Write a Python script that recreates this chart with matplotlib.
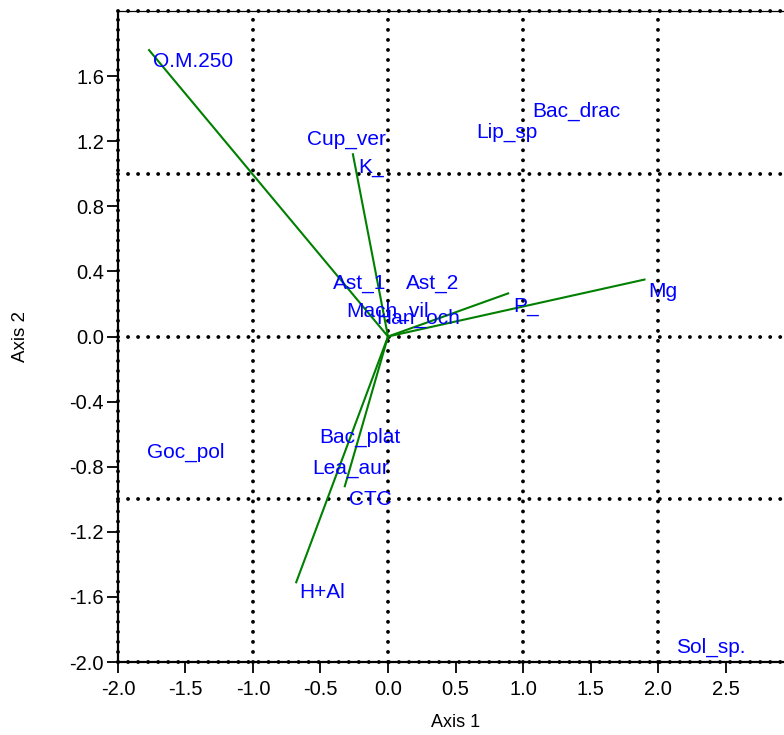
import matplotlib
matplotlib.use("Agg")
import matplotlib.pyplot as plt

plt.rcParams['font.family'] = ['Liberation Sans', 'DejaVu Sans']

# Environmental variable vectors (biplot arrows from the origin)
vec_names = ["O.M.250", "K_", "P_", "Mg", "CTC", "H+Al"]
vec_x = [-1.77, -0.26, 0.89, 1.90, -0.32, -0.68]
vec_y = [1.76, 1.12, 0.265, 0.35, -0.92, -1.51]

# Label positions (species and variables)
lab_names = ["O.M.250", "Cup_ver", "K_", "Lip_sp", "Bac_drac", "Ast_1", "Ast_2",
             "Mach_vil", "Han_och", "P_", "Mg", "Bac_plat", "Lea_aur", "CTC",
             "H+Al", "Goc_pol", "Sol_sp."]
lab_x = [-1.74, -0.60, -0.22, 0.65, 1.07, -0.41, 0.13,
         -0.31, -0.09, 0.93, 1.93, -0.51, -0.56, -0.29,
         -0.66, -1.785, 2.13]
lab_y = [1.69, 1.21, 1.04, 1.255, 1.385, 0.326, 0.326,
         0.154, 0.111, 0.185, 0.277, -0.622, -0.812, -1.003,
         -1.575, -0.714, -1.908]

x_ticks = [-2.0, -1.5, -1.0, -0.5, 0.0, 0.5, 1.0, 1.5, 2.0, 2.5]
y_ticks = [-2.0, -1.6, -1.2, -0.8, -0.4, 0.0, 0.4, 0.8, 1.2, 1.6]
grid_x = [-2, -1, 0, 1, 2, 3]
grid_y = [-2, -1, 0, 1, 2]

fig = plt.figure(figsize=(7.84, 7.35), dpi=100)
ax = fig.add_axes([0.1505, 0.0993, 0.8610, 0.8857])
ax.set_xlim(-2.0, 3.0)
ax.set_ylim(-2.0, 2.0)

# Dotted reference grid
dot_style = dict(color='black', lw=2.8, linestyle=(0, (0.01, 2.57)),
                 dash_capstyle='round', zorder=1, clip_on=False)
for gx in grid_x:
    ax.axvline(gx, **dot_style)
for gy in grid_y:
    ax.axhline(gy, **dot_style)

# Vectors
for vx, vy in zip(vec_x, vec_y):
    ax.plot([0, vx], [0, vy], color='#008000', lw=1.5, zorder=3)

# Labels
for name, lx, ly in zip(lab_names, lab_x, lab_y):
    ax.text(lx, ly, name, color='#0000ff', fontsize=15, ha='left', va='center',
            zorder=4)

ax.spines['left'].set_linewidth(1.6)
ax.spines['bottom'].set_linewidth(1.6)
ax.spines['top'].set_linewidth(0.9)
ax.spines['right'].set_visible(False)

ax.set_xticks(x_ticks)
ax.set_xticklabels([f"{t:.1f}" for t in x_ticks])
ax.set_yticks(y_ticks)
ax.set_yticklabels([f"{t:.1f}" for t in y_ticks])
ax.tick_params(axis='both', direction='out', length=8, width=1.3,
               labelsize=14.5, colors='black')
ax.tick_params(axis='x', pad=5)
ax.tick_params(axis='y', pad=2)

ax.set_xlabel("Axis 1", fontsize=13, labelpad=11)
ax.set_ylabel("Axis 2", fontsize=13.5, labelpad=29)

fig.savefig("out.png", dpi=100)
